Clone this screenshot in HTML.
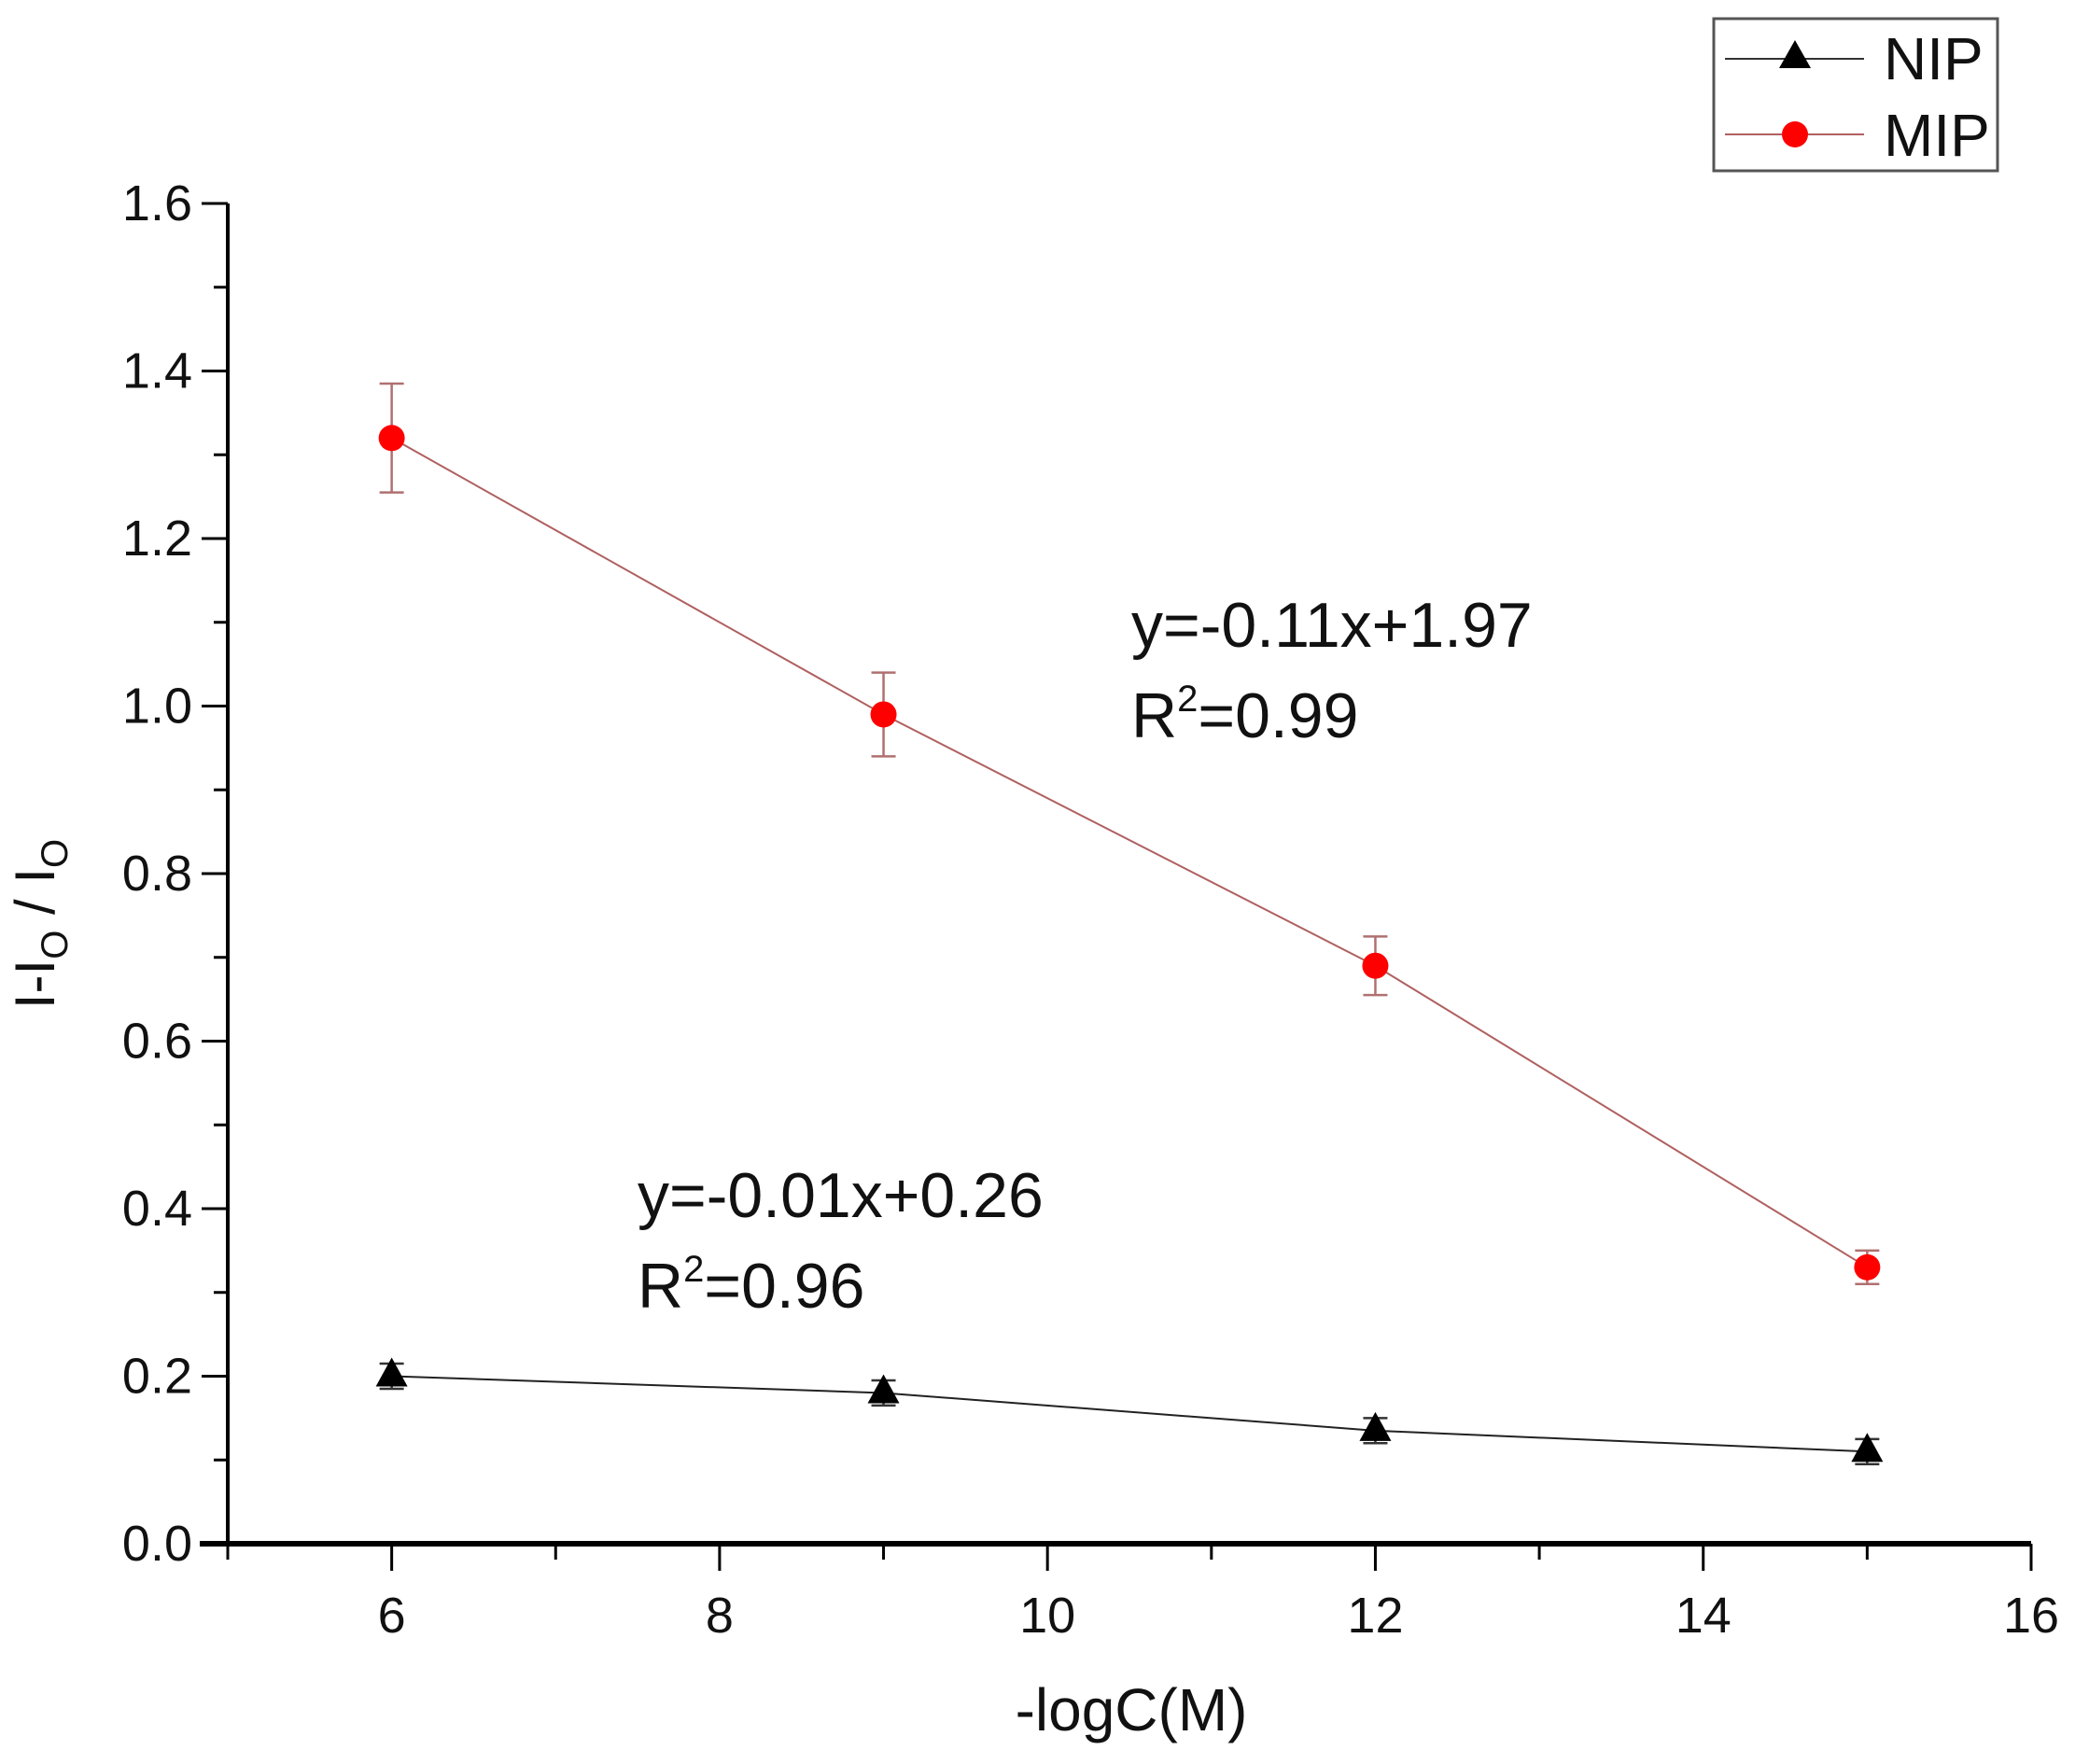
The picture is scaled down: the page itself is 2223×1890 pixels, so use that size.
<!DOCTYPE html>
<html><head><meta charset="utf-8"><style>
html,body{margin:0;padding:0;background:#fff}
svg{display:block;font-family:"Liberation Sans",sans-serif}
</style></head><body>
<svg id="chart" width="2223" height="1890" viewBox="0 0 2223 1890" xmlns="http://www.w3.org/2000/svg">
<g id="axes"></g>
<g id="series"></g>
<text x="1212" y="1854" font-size="64" text-anchor="middle" fill="#111">-logC(M)</text>
<text transform="translate(58,990) rotate(-90)" font-size="60" text-anchor="middle" fill="#111">I-I<tspan font-size="40" dy="14">O</tspan><tspan dy="-14"> / I</tspan><tspan font-size="40" dy="14">O</tspan></text>
<text x="1212" y="693" font-size="68" fill="#111">y=-0.11x+1.97</text>
<text x="1212" y="790" font-size="68" fill="#111">R<tspan font-size="40" dy="-28">2</tspan><tspan dy="28">=0.99</tspan></text>
<text x="683" y="1304" font-size="68" fill="#111">y=-0.01x+0.26</text>
<text x="683" y="1401" font-size="68" fill="#111">R<tspan font-size="40" dy="-28">2</tspan><tspan dy="28">=0.96</tspan></text>
<g>
<rect x="1836" y="20" width="304" height="163" fill="#fff" stroke="#555" stroke-width="3"/>
<line x1="1848" y1="63" x2="1997" y2="63" stroke="#333" stroke-width="2"/>
<polygon points="1923,43 1906,73 1940,73" fill="#000"/>
<text x="2018" y="85" font-size="64" fill="#111">NIP</text>
<line x1="1848" y1="144" x2="1997" y2="144" stroke="#b06060" stroke-width="2"/>
<circle cx="1923" cy="144" r="14" fill="#f00"/>
<text x="2018" y="167" font-size="64" fill="#111">MIP</text>
</g>
</svg>
<script>
const xCategories=[6,9,12,15];
const mipValues=[1.32,0.99,0.69,0.33];
const mipErrors=[0.065,0.05,0.035,0.02];
const nipValues=[0.20,0.18,0.135,0.11];
const nipErrors=[0.015,0.015,0.015,0.015];
const xTickLabels=["6","8","10","12","14","16"];
const yTickLabels=["0.0","0.2","0.4","0.6","0.8","1.0","1.2","1.4","1.6"];

const NS="http://www.w3.org/2000/svg";
const X0=244,X1=2176,XMIN=5,XMAX=16;
const Y0=1654,Y1=218,YMIN=0,YMAX=1.6;
function sx(v){return X0+(v-XMIN)/(XMAX-XMIN)*(X1-X0);}
function sy(v){return Y0-(v-YMIN)/(YMAX-YMIN)*(Y0-Y1);}
function mk(tag,attrs,parent){const e=document.createElementNS(NS,tag);for(const k in attrs)e.setAttribute(k,attrs[k]);parent.appendChild(e);return e;}
const axes=document.getElementById('axes');
const ser=document.getElementById('series');

let l=mk('line',{x1:X0-30,y1:Y0,x2:X1,y2:Y0,stroke:'#000','stroke-width':6},axes);


l=mk('line',{x1:X0,y1:Y0+2,x2:X0,y2:Y1,stroke:'#000','stroke-width':4},axes);



for(let v=5;v<=16;v++){
  const major=(v%2===0);
  const t=mk('line',{x1:sx(v),y1:Y0,x2:sx(v),y2:Y0+(major?29:17),stroke:'#000','stroke-width':3},axes);
  
  
}
xTickLabels.forEach(s=>{
  const t=mk('text',{x:sx(parseFloat(s)),y:Y0+95,'font-size':54,'text-anchor':'middle',fill:'#111'},axes);
  t.textContent=s;
  
  
});
for(let i=0;i<=16;i++){
  const v=i*0.1,major=(i%2===0);
  const t=mk('line',{x1:X0-(major?28:15),y1:sy(v),x2:X0,y2:sy(v),stroke:'#000','stroke-width':3},axes);
  
  
}
yTickLabels.forEach(s=>{
  const t=mk('text',{x:X0-38,y:sy(parseFloat(s))+18,'font-size':54,'text-anchor':'end',fill:'#111'},axes);
  t.textContent=s;
  
  
});

function drawSeries(vals,errs,lineColor,errColor,name,marker){
  const pts=xCategories.map((x,i)=>sx(x)+','+sy(vals[i])).join(' ');
  const pl=mk('polyline',{points:pts,fill:'none',stroke:lineColor,'stroke-width':2},ser);
  
  
  xCategories.forEach((x,i)=>{
    const cx=sx(x),cy=sy(vals[i]),t=sy(vals[i]+errs[i]),b=sy(vals[i]-errs[i]);
    const g=mk('g',{stroke:errColor,'stroke-width':2.5},ser);
    
    
    mk('line',{x1:cx,y1:t,x2:cx,y2:b},g);
    mk('line',{x1:cx-13,y1:t,x2:cx+13,y2:t},g);
    mk('line',{x1:cx-13,y1:b,x2:cx+13,y2:b},g);
    let m;
    if(marker==='circle'){m=mk('circle',{cx:cx,cy:cy,r:14,fill:'#f00'},ser);}
    else{m=mk('polygon',{points:(cx)+','+(cy-20)+' '+(cx-17)+','+(cy+11)+' '+(cx+17)+','+(cy+11),fill:'#000'},ser);}
    
    
  });
}
drawSeries(mipValues,mipErrors,'#b06060','#b07070','mip','circle');
drawSeries(nipValues,nipErrors,'#222','#333','nip','triangle');
</script>
</body></html>
